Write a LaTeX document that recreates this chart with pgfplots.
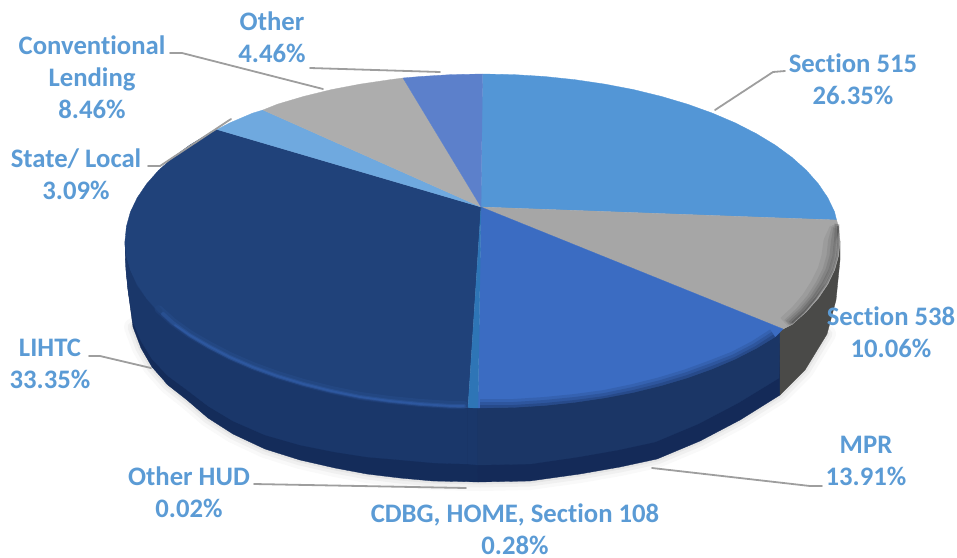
\documentclass[border=0pt]{standalone}
\usepackage{fontspec}
\setmainfont{Carlito}[Ligatures=CommonOff]
\usepackage{pgfplots}
\pgfplotsset{compat=1.18}
\definecolor{lbl}{HTML}{5B9BD5}
\definecolor{lead}{HTML}{9E9E9E}
\definecolor{cOther}{HTML}{5C80CB}
\definecolor{cS515}{HTML}{5396D6}
\definecolor{cS538}{HTML}{A6A6A6}
\definecolor{cMPR}{HTML}{3B6CC2}
\definecolor{cCDBG}{HTML}{2E75B6}
\definecolor{cLIHTC}{HTML}{20427A}
\definecolor{cState}{HTML}{6FA9DF}
\definecolor{cConv}{HTML}{ADADAD}
\definecolor{wLIHTCa}{HTML}{142C5A}
\definecolor{wLIHTCb}{HTML}{1A376A}
\definecolor{wMPRa}{HTML}{142A58}
\definecolor{wMPRb}{HTML}{1B3666}
\definecolor{wS538}{HTML}{4A4A48}
\begin{document}
\begin{tikzpicture}
\begin{axis}[
  hide axis, scale only axis, width=957pt, height=557pt,
  xmin=0, xmax=957, ymin=0, ymax=557, y dir=reverse,
  enlargelimits=false, clip=false, no markers,
  every axis plot/.append style={line join=round, line cap=round},
]
% the page spans the whole plotting area
\path (axis cs:0,0) rectangle (axis cs:957,557);
% soft shadow under the disc
\addplot[gray, opacity=.05, line width=18pt] coordinates {(133,327)(141,348)(152,367)(168,385)(187,400)(208,418)(233,434)(265,449)(300,460)(335,468)(367,474)(400,478)(433,481)(480,482)(530,481)(580,474)(620,467)(657,459)(700,441)(740,420)(780,395)(805,370)(827,334)};
\addplot[gray, opacity=.07, line width=11pt] coordinates {(133,327)(141,348)(152,367)(168,385)(187,400)(208,418)(233,434)(265,449)(300,460)(335,468)(367,474)(400,478)(433,481)(480,482)(530,481)(580,474)(620,467)(657,459)(700,441)(740,420)(780,395)(805,370)(827,334)};
\addplot[gray, opacity=.10, line width=5pt] coordinates {(133,327)(141,348)(152,367)(168,385)(187,400)(208,418)(233,434)(265,449)(300,460)(335,468)(367,474)(400,478)(433,481)(480,482)(530,481)(580,474)(620,467)(657,459)(700,441)(740,420)(780,395)(805,370)(827,334)};

% side wall, LIHTC
\addplot[fill=wLIHTCa, draw=wLIHTCa, line width=.3pt] coordinates {(468,407.7)(451.3,407.4)(420.4,405.5)(390.0,402.3)(360.2,397.9)(331.4,392.4)(303.7,385.6)(277.4,377.8)(252.7,368.9)(229.7,359.1)(208.6,348.3)(189.6,336.8)(172.9,324.5)(158.5,311.6)(146.6,298.1)(137.2,284.2)(130.4,270.0)(126.4,255.6)(125,241)(125,243)(126,270)(128,290)(133,327)(141,348)(152,367)(168,385)(187,400)(208,418)(233,434)(265,449)(300,460)(335,468)(367,474)(400,478)(433,481)(468,481.7)} --cycle;
\addplot[fill=wLIHTCb, draw=wLIHTCb, line width=.3pt] coordinates {(468,407.7)(451.3,407.4)(420.4,405.5)(390.0,402.3)(360.2,397.9)(331.4,392.4)(303.7,385.6)(277.4,377.8)(252.7,368.9)(229.7,359.1)(208.6,348.3)(189.6,336.8)(172.9,324.5)(158.5,311.6)(146.6,298.1)(137.2,284.2)(130.4,270.0)(126.4,255.6)(125,241)(126,270)(128,290)(133,322)(141,341)(152,359)(168,376)(187,390)(208,406)(233,421)(265,435)(300,445)(335,452)(367,457)(402,460)(435,463)(468,464)} --cycle;
\addplot[wLIHTCa, opacity=.4, line width=7pt] coordinates {(168,381)(187,395)(208,412)(233,427)(265,442)(300,452)(335,460)(367,465)(402,469)(435,472)(468,473)};
% side wall, CDBG
\addplot[fill=wLIHTCa, draw=wLIHTCa, line width=.3pt] coordinates {(468,407)(478,408)(478,482)(468,481.7)} --cycle;
\addplot[fill=wLIHTCb, draw=wLIHTCb, line width=.3pt] coordinates {(468,407)(478,408)(478,465)(468,464)} --cycle;
\addplot[wLIHTCa, opacity=.4, line width=7pt, line cap=butt] coordinates {(468,473)(478,473)};
% side wall, MPR
\addplot[fill=wMPRa, draw=wMPRa, line width=.3pt] coordinates {(478,408)(513.7,407.4)(544.6,405.5)(575.0,402.3)(604.8,397.9)(633.6,392.4)(661.3,385.6)(687.6,377.8)(712.3,368.9)(735.3,359.1)(756.4,348.3)(775.4,336.8)(780,331)(780,395)(740,420)(700,441)(657,459)(620,467)(580,474)(530,481)(478,482)} --cycle;
\addplot[fill=wMPRb, draw=wMPRb, line width=.3pt] coordinates {(478,408)(513.7,407.4)(544.6,405.5)(575.0,402.3)(604.8,397.9)(633.6,392.4)(661.3,385.6)(687.6,377.8)(712.3,368.9)(735.3,359.1)(756.4,348.3)(775.4,336.8)(780,331)(779,378)(738,403)(698,424)(655,442)(618,450)(578,457)(530,464)(478,465)} --cycle;
\addplot[wMPRa, opacity=.4, line width=7pt, line cap=butt] coordinates {(478,473)(530,472)(578,465)(618,458)(655,450)(698,432)(738,411)(779,386)};
% side wall, Section 538
\addplot[fill=wS538, draw=wS538, line width=.3pt] coordinates {(780,331)(792.1,324.5)(806.5,311.6)(818.4,298.1)(827.8,284.2)(834.6,270.0)(838.6,255.6)(840,241)(840,260)(836,300)(827,334)(805,370)(780,395)} --cycle;

% top face: one wedge per funding source, all meeting at the hub
\addplot[fill=cS515, draw=cS515, line width=.3pt] coordinates {(481,207)(482.5,74)(513.7,74.6)(544.6,76.5)(575.0,79.7)(604.8,84.1)(633.6,89.6)(661.3,96.4)(687.6,104.2)(712.3,113.1)(735.3,122.9)(756.4,133.7)(775.4,145.2)(792.1,157.5)(806.5,170.4)(818.4,183.9)(827.8,197.8)(834.6,212.0)(836.5,220)} --cycle;
\addplot[fill=cS538, draw=cS538, line width=.3pt] coordinates {(481,207)(836.5,220)(838.6,226.4)(840,241)(838.6,255.6)(834.6,270.0)(827.8,284.2)(818.4,298.1)(806.5,311.6)(792.1,324.5)(783,329)} --cycle;
\addplot[fill=cMPR, draw=cMPR, line width=.3pt] coordinates {(481,207)(783,329)(775.4,336.8)(756.4,348.3)(735.3,359.1)(712.3,368.9)(687.6,377.8)(661.3,385.6)(633.6,392.4)(604.8,397.9)(575.0,402.3)(544.6,405.5)(513.7,407.4)(478,408)} --cycle;
\addplot[fill=cLIHTC, draw=cLIHTC, line width=.3pt] coordinates {(481,207)(468,407.7)(451.3,407.4)(420.4,405.5)(390.0,402.3)(360.2,397.9)(331.4,392.4)(303.7,385.6)(277.4,377.8)(252.7,368.9)(229.7,359.1)(208.6,348.3)(189.6,336.8)(172.9,324.5)(158.5,311.6)(146.6,298.1)(137.2,284.2)(130.4,270.0)(126.4,255.6)(125,241)(126.4,226.4)(130.4,212.0)(137.2,197.8)(146.6,183.9)(158.5,170.4)(172.9,157.5)(189.6,145.2)(208.6,133.7)(217,129.5)} --cycle;
\addplot[fill=cCDBG, draw=cCDBG, line width=.3pt] coordinates {(481,207)(478,408)(468,407.7)} --cycle;
\addplot[fill=cState, draw=cState, line width=.3pt] coordinates {(481,207)(217,129.5)(229.7,122.9)(252.7,113.1)(263,110)} --cycle;
\addplot[fill=cConv, draw=cConv, line width=.3pt] coordinates {(481,207)(263,110)(277.4,104.2)(303.7,96.4)(331.4,89.6)(360.2,84.1)(390.0,79.7)(403,78)} --cycle;
\addplot[fill=cOther, draw=cOther, line width=.3pt] coordinates {(481,207)(403,78)(420.4,76.5)(451.3,74.6)(482.5,74)} --cycle;

% bevel: dark fade on the front of the MPR wedge
\addplot[wMPRb, opacity=.18, line width=18pt, line cap=butt] coordinates {(480,408)(513.7,408)(544.6,406)(575.0,403)(604.8,399)(633.6,393)(661.3,386)(687.6,378)(712.3,369)(735.3,360)(756.4,349)(775,337)};
\addplot[wMPRb, opacity=.25, line width=12pt, line cap=butt] coordinates {(480,408)(513.7,408)(544.6,406)(575.0,403)(604.8,399)(633.6,393)(661.3,386)(687.6,378)(712.3,369)(735.3,360)(756.4,349)(775,337)};
\addplot[wMPRb, opacity=.35, line width=6pt, line cap=butt] coordinates {(480,408)(513.7,408)(544.6,406)(575.0,403)(604.8,399)(633.6,393)(661.3,386)(687.6,378)(712.3,369)(735.3,360)(756.4,349)(775,337)};
% bevel: dark fade along the right of Section 538, tapering out at the top
\addplot[black, opacity=.06, line width=11pt, line cap=butt] coordinates {(835,228)(829,241)(827,256)(823,270)(816,284)(807,298)(796,311)(784,322)};
\addplot[black, opacity=.07, line width=8pt, line cap=butt] coordinates {(836,226)(832,241)(830.5,256)(826.5,270)(819.5,284)(810.5,298)(799.5,311)(787,323)};
\addplot[black, opacity=.09, line width=6pt, line cap=butt] coordinates {(837,224)(834,241)(832.5,256)(828.5,270)(821.5,284)(812.5,298)(801.5,311)(788,323)};
\addplot[black, opacity=.12, line width=4pt, line cap=butt] coordinates {(837,224)(836,241)(834.5,256)(830.5,270)(823.5,284)(814,298)(803,311)(790,323)};
\addplot[black, opacity=.2, line width=2pt, line cap=butt] coordinates {(838,226)(838.5,241)(837,256)(833,270)(826,284)(816,298)(805,311)(792,323)};
% bevel: pale highlight along the rim of the LIHTC wedge
\addplot[cMPR, opacity=.12, line width=8pt] coordinates {(464,405)(451.3,405)(420.4,403)(390.0,400)(360.2,396)(331.4,390)(303.7,383)(277.4,375)(252.7,366)(229.7,356)(208.6,345)(189.6,334)(172.9,322)(158.5,309)};
\addplot[cMPR, opacity=.22, line width=4pt] coordinates {(464,406)(451.3,406)(420.4,404)(390.0,401)(360.2,397)(331.4,391)(303.7,384)(277.4,376)(252.7,367)(229.7,357)(208.6,346)(189.6,335)(172.9,323)(163,314)};
\addplot[cMPR, opacity=.3, line width=1.8pt] coordinates {(464,406)(451.3,406)(420.4,404)(390.0,401)(360.2,397)(331.4,391)(303.7,384)(277.4,376)(252.7,367)(229.7,357)(208.6,346)(189.6,335)(175,325)};
% the rim melts into the wall at the far left
\addplot[cLIHTC, opacity=.55, line width=5pt] coordinates {(127,243)(129,256)(133,270)(139,284)(149,298)(160,311)};

% leader lines
\addplot[lead, line width=1.8pt] coordinates {(310,68)(440,72)};
\addplot[lead, line width=1.8pt] coordinates {(170,53)(182,53)(323,89)};
\addplot[lead, line width=1.8pt] coordinates {(148,166)(160,166)(231,119)};
\addplot[lead, line width=1.8pt] coordinates {(89,356)(100,356)(151,368)};
\addplot[lead, line width=1.8pt] coordinates {(254,484)(466,488)};
\addplot[lead, line width=1.8pt] coordinates {(652,468)(810,486)(822,486)};
\addplot[lead, line width=1.8pt] coordinates {(715,110)(773,72)(785,71)};

% labels
\tikzset{lab/.style={text=lbl, align=center, font=\fontsize{26.7}{32}\selectfont\bfseries, inner sep=0pt}}
\node[lab] at (axis cs:272,37) {Other\\4.46\%};
\node[lab] at (axis cs:92,77) {Conventional\\Lending\\8.46\%};
\node[lab] at (axis cs:76,174) {State/ Local\\3.09\%};
\node[lab] at (axis cs:50,364) {LIHTC\\33.35\%};
\node[lab] at (axis cs:189,492) {Other HUD\\0.02\%};
\node[lab] at (axis cs:515,529) {CDBG, HOME, Section 108\\0.28\%};
\node[lab] at (axis cs:866,461) {MPR\\13.91\%};
\node[lab] at (axis cs:891,332) {Section 538\\10.06\%};
\node[lab] at (axis cs:853,79) {Section 515\\26.35\%};
\end{axis}
\end{tikzpicture}
\end{document}
